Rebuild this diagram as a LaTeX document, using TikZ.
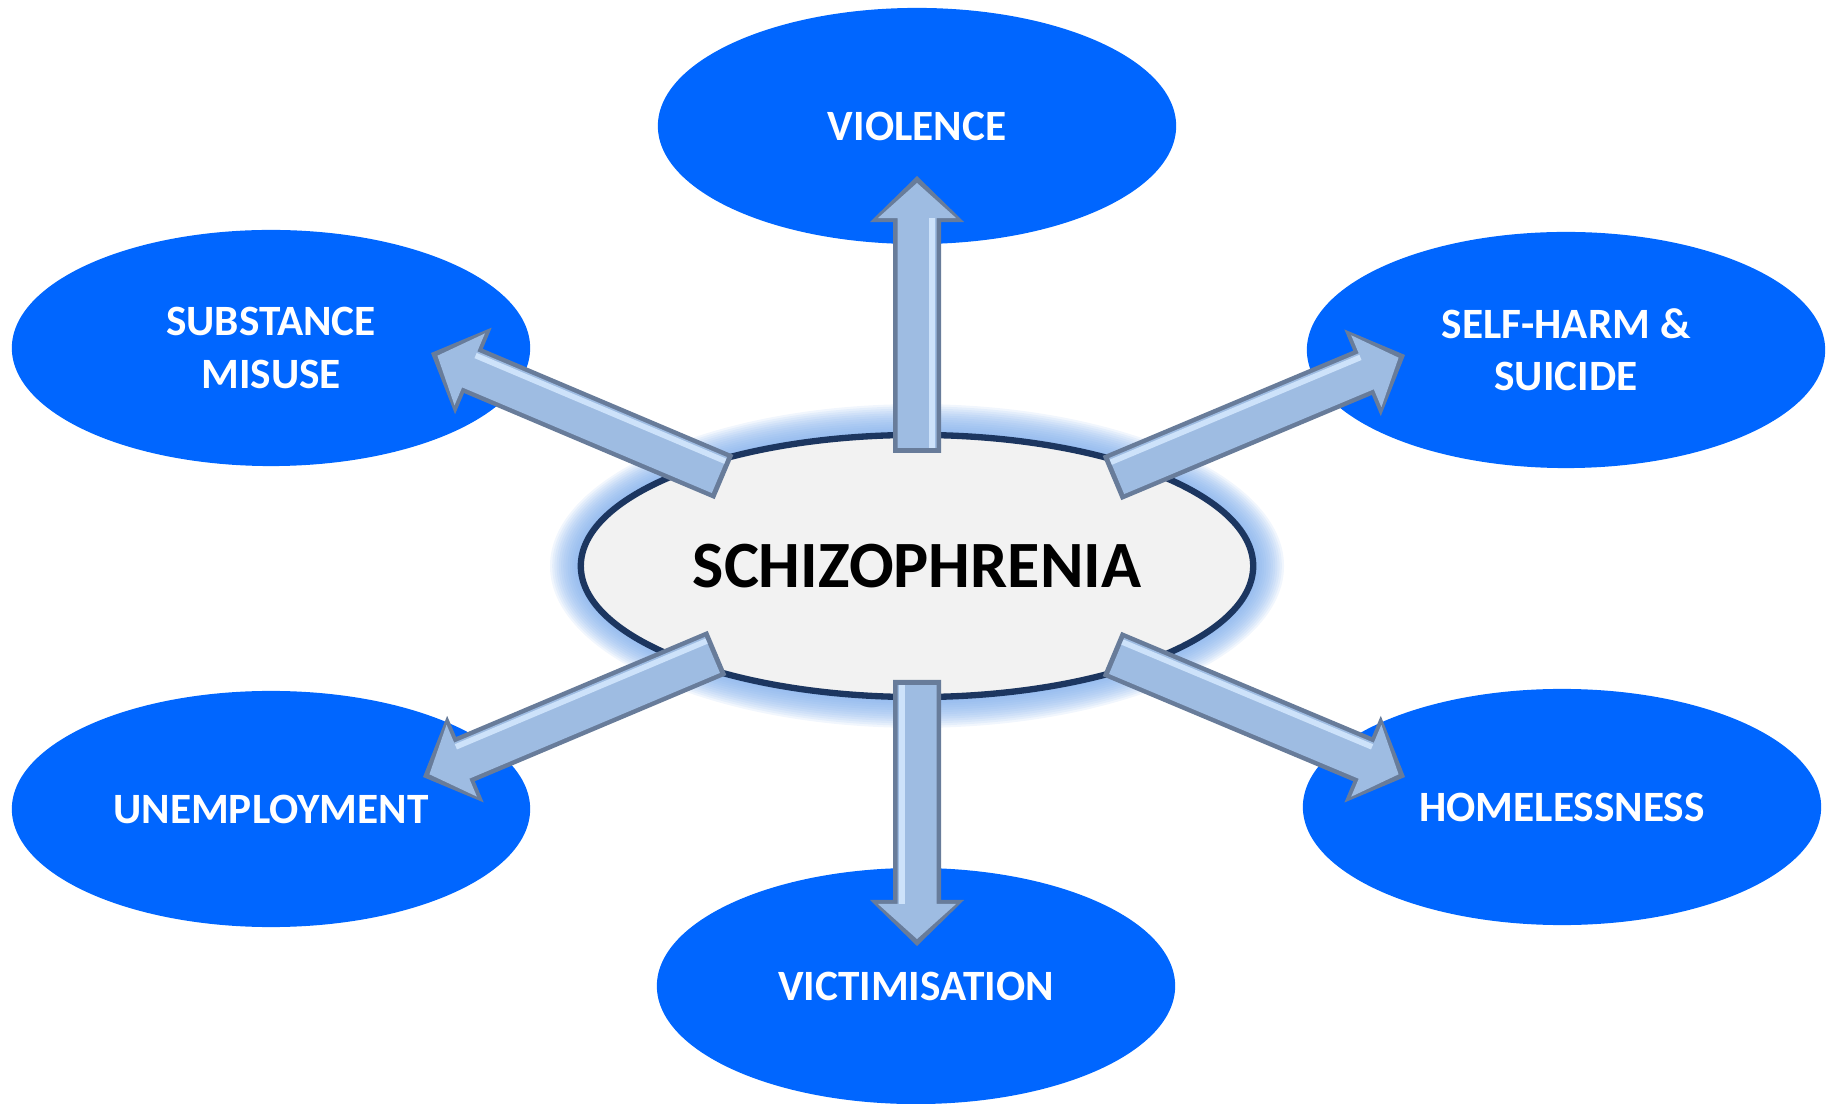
\documentclass[tikz,border=0pt]{standalone}
\usepackage{fontspec}
\setmainfont{Carlito}
\usetikzlibrary{shapes.geometric,calc}
\definecolor{ovalblue}{RGB}{0,102,255}
\definecolor{ringnavy}{RGB}{28,54,96}
\definecolor{coreface}{RGB}{242,242,242}
\definecolor{glowblue}{RGB}{125,172,235}
\definecolor{shaftdark}{RGB}{104,124,154}
\definecolor{shaftmid}{RGB}{158,188,226}
\definecolor{shaftlight}{RGB}{205,226,250}
\tikzset{
  outer/.style={ellipse,fill=ovalblue,minimum width=5.18cm,minimum height=2.36cm,
    inner sep=0pt,text=white,align=center,font=\bfseries\fontsize{12.3}{14.8}\selectfont},
  core/.style={ellipse,fill=coreface,draw=ringnavy,line width=1.8pt,minimum width=6.72cm,
    minimum height=2.62cm,inner sep=0pt,font=\bfseries\fontsize{18.8}{22}\selectfont}
}
% thick bevelled arrow: tail, tip, side of the highlight
\newcommand{\fatarrow}[3]{%
  \coordinate (hb) at ($(#2)!0.46cm!(#1)$);
  \fill[shaftdark] ($(#1)!0.24cm!90:(#2)$) -- ($(hb)!0.24cm!90:(#2)$) -- ($(hb)!0.47cm!90:(#2)$) -- (#2)
    -- ($(hb)!0.47cm!-90:(#2)$) -- ($(hb)!0.24cm!-90:(#2)$) -- ($(#1)!0.24cm!-90:(#2)$) -- cycle;
  \coordinate (ta) at ($(#1)!0.05cm!(#2)$);
  \coordinate (tb) at ($(#2)!0.07cm!(#1)$);
  \coordinate (hc) at ($(tb)!0.35cm!(#1)$);
  \fill[shaftmid] ($(ta)!0.195cm!90:(#2)$) -- ($(hc)!0.195cm!90:(#2)$) -- ($(hc)!0.39cm!90:(#2)$) -- (tb)
    -- ($(hc)!0.39cm!-90:(#2)$) -- ($(hc)!0.195cm!-90:(#2)$) -- ($(ta)!0.195cm!-90:(#2)$) -- cycle;
  \draw[shaftlight,line width=1.6pt] ($(ta)!0.15cm!#3:(#2)$) -- ($(hc)!0.15cm!#3:(#2)$);
}

\begin{document}
\begin{tikzpicture}[x=0.01cm,y=-0.01cm]
  \useasboundingbox (0,0) rectangle (1831,1104);

  % outer ovals
  \node[outer] (violence) at (917,126) {VIOLENCE};
  \node[outer] (substance) at (271,348) {SUBSTANCE\\MISUSE};
  \node[outer] (selfharm) at (1566,350) {SELF-HARM \&\\SUICIDE};
  \node[outer] (unemploy) at (271,809) {UNEMPLOYMENT};
  \node[outer] (homeless) at (1562,807) {HOMELESSNESS};
  \node[outer] (victim) at (916,986) {VICTIMISATION};

  % soft glow round the centre
  \foreach \k in {14,13,...,1}
    \fill[glowblue,opacity=0.11] (917,566) ellipse ({3.36cm+\k*0.022cm} and {1.31cm+\k*0.022cm});
  \node[core] (schizo) at (917,566) {SCHIZOPHRENIA};

  % arrow ends
  \coordinate (t-violence) at (917,453);  \coordinate (h-violence) at (917,176);
  \coordinate (t-victim) at (917,680);    \coordinate (h-victim) at (917,946);
  \coordinate (t-substance) at (724,477); \coordinate (h-substance) at (431,353);
  \coordinate (t-selfharm) at (1112,478); \coordinate (h-selfharm) at (1405,355);
  \coordinate (t-unemploy) at (717,653);  \coordinate (h-unemploy) at (423,777);
  \coordinate (t-homeless) at (1112,654); \coordinate (h-homeless) at (1405,777);

  \fatarrow{t-violence}{h-violence}{-90}
  \fatarrow{t-victim}{h-victim}{-90}
  \fatarrow{t-substance}{h-substance}{-90}
  \fatarrow{t-selfharm}{h-selfharm}{90}
  \fatarrow{t-unemploy}{h-unemploy}{-90}
  \fatarrow{t-homeless}{h-homeless}{90}
\end{tikzpicture}
\end{document}
